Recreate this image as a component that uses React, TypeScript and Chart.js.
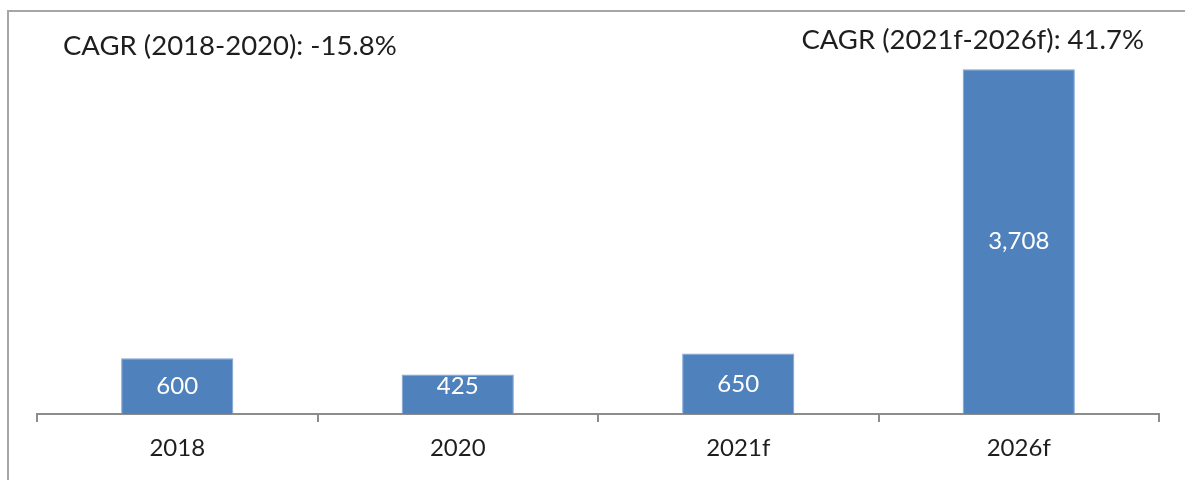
import React, { useEffect, useRef } from "react";
import { Chart, registerables } from "chart.js";

Chart.register(...registerables);

const categories = ["2018", "2020", "2021f", "2026f"];
const values = [600, 425, 650, 3708];
const valueLabels = ["600", "425", "650", "3,708"];
const annotations = ["CAGR (2018-2020): -15.8%", "CAGR (2021f-2026f): 41.7%"];

const FONT = "Lato";
const FONT_SIZE = 24;
const NOTE_SIZE = 27.5;
const BAR_COLOR = "#4F81BD";
const AXIS_COLOR = "#8C8C8C";
const TEXT_COLOR = "#1E1E1E";

const labelPlugin = {
  id: "labelsAndNotes",
  afterDatasetsDraw(chart: any) {
    const ctx = chart.ctx;
    const meta = chart.getDatasetMeta(0);
    ctx.save();
    ctx.font = `${FONT_SIZE}px ${FONT}`;
    ctx.fillStyle = "#FFFFFF";
    ctx.textAlign = "center";
    ctx.textBaseline = "middle";
    meta.data.forEach((bar: any, i: number) => {
      const { x, y, base } = bar.getProps(["x", "y", "base"], true);
      const ly = Math.min((y + base) / 2, base - 28);
      ctx.fillText(valueLabels[i], x, ly);
    });
    ctx.font = `${NOTE_SIZE}px ${FONT}`;
    ctx.fillStyle = TEXT_COLOR;
    ctx.textAlign = "left";
    ctx.fillText(annotations[0], 63, 46);
    ctx.textAlign = "right";
    ctx.fillText(annotations[1], 1144, 40);
    ctx.restore();
  },
};

export default function App() {
  const ref = useRef<HTMLCanvasElement>(null);
  useEffect(() => {
    if (!ref.current) return;
    const chart = new Chart(ref.current, {
      type: "bar",
      data: {
        labels: categories,
        datasets: [
          {
            data: values,
            backgroundColor: BAR_COLOR,
            borderColor: "#7FA3D0",
            borderWidth: 1,
            categoryPercentage: 0.8,
            barPercentage: 0.5,
          },
        ],
      },
      options: {
        animation: false,
        responsive: false,
        maintainAspectRatio: false,
        devicePixelRatio: 1,
        layout: { padding: { left: 37, right: 26, top: 42, bottom: 0 } },
        plugins: { legend: { display: false }, tooltip: { enabled: false } },
        scales: {
          x: {
            afterFit(scale: any) {
              scale.height = 66;
            },
            grid: {
              drawOnChartArea: false,
              drawTicks: true,
              tickLength: 8,
              color: AXIS_COLOR,
              lineWidth: 2,
              offset: true,
            },
            border: { color: AXIS_COLOR, width: 2 },
            ticks: {
              color: TEXT_COLOR,
              padding: 12,
              font: { family: FONT, size: FONT_SIZE },
            },
          },
          y: {
            display: false,
            min: 0,
            max: 4000,
          },
        },
      },
      plugins: [labelPlugin],
    });
    return () => chart.destroy();
  }, []);

  return (
    <div style={{ position: "absolute", left: 0, top: 0, width: 1185, height: 480, background: "#fff", overflow: "hidden" }}>
      <div
        style={{
          position: "absolute",
          left: 7,
          top: 10,
          right: -10,
          bottom: -10,
          borderTop: "2px solid #A6A6A6",
          borderLeft: "2px solid #A6A6A6",
        }}
      />
      <canvas ref={ref} width={1185} height={480} style={{ position: "absolute", left: 0, top: 0, width: 1185, height: 480 }} />
    </div>
  );
}
